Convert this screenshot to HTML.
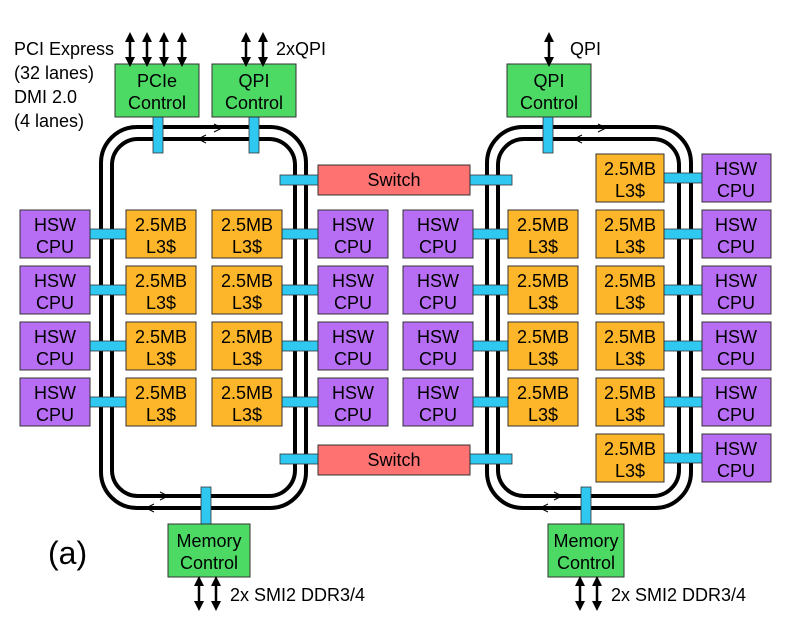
<!DOCTYPE html>
<html><head><meta charset="utf-8"><style>
html,body{margin:0;padding:0;background:#fff;}
svg{display:block;font-family:"Liberation Sans",Arial,sans-serif;}
</style></head><body>
<svg width="787" height="627" viewBox="0 0 787 627" xmlns="http://www.w3.org/2000/svg">
<defs>
<marker id="ah" viewBox="0 0 10 10" refX="5" refY="5" markerWidth="4" markerHeight="4" orient="auto-start-reverse"><path d="M0,0 L10,5 L0,10 z" fill="#000"/></marker>
</defs>
<g fill="none" stroke="#000" stroke-width="4">
<rect x="101" y="127" width="205" height="381" rx="36"/>
<rect x="112" y="139" width="183" height="357" rx="26"/>
<rect x="487" y="127" width="204" height="381" rx="36"/>
<rect x="498" y="139" width="181" height="357" rx="26"/>
</g>
<g fill="none" stroke="#000" stroke-width="1">
<path d="M214,128 l8,-4 M214,128 l8,4" transform="rotate(180 218 128)"/>
<path d="M198,139 l8,-4 M198,139 l8,4"/>
<path d="M598,128 l8,-4 M598,128 l8,4" transform="rotate(180 602 128)"/>
<path d="M598,139 l8,-4 M598,139 l8,4" transform="translate(-24 0)"/>
<path d="M160,496 l8,-4 M160,496 l8,4" transform="rotate(180 164 496)"/>
<path d="M146,508 l8,-4 M146,508 l8,4"/>
<path d="M554,496 l8,-4 M554,496 l8,4" transform="rotate(180 558 496)"/>
<path d="M540,508 l8,-4 M540,508 l8,4"/>
</g>
<g fill="#2ec8f0" stroke="#333" stroke-width="0.8">
<rect x="153" y="117" width="10" height="36"/>
<rect x="249" y="117" width="10" height="36"/>
<rect x="543" y="117" width="10" height="36"/>
<rect x="201" y="487" width="10" height="37"/>
<rect x="581" y="487" width="10" height="37"/>
<rect x="280" y="175" width="38" height="10"/>
<rect x="470" y="175" width="42" height="10"/>
<rect x="280" y="454" width="38" height="10"/>
<rect x="470" y="454" width="42" height="10"/>
<rect x="90" y="229" width="36" height="10"/><rect x="282" y="229" width="36" height="10"/><rect x="473" y="229" width="35" height="10"/>
<rect x="90" y="285" width="36" height="10"/><rect x="282" y="285" width="36" height="10"/><rect x="473" y="285" width="35" height="10"/>
<rect x="90" y="341" width="36" height="10"/><rect x="282" y="341" width="36" height="10"/><rect x="473" y="341" width="35" height="10"/>
<rect x="90" y="397" width="36" height="10"/><rect x="282" y="397" width="36" height="10"/><rect x="473" y="397" width="35" height="10"/>
<rect x="664" y="173" width="38" height="10"/><rect x="664" y="229" width="38" height="10"/><rect x="664" y="285" width="38" height="10"/>
<rect x="664" y="341" width="38" height="10"/><rect x="664" y="397" width="38" height="10"/><rect x="664" y="453" width="38" height="10"/>
</g>
<g fill="#4cd964" stroke="#333" stroke-width="1">
<rect x="115" y="64" width="84" height="53"/>
<rect x="212" y="64" width="84" height="53"/>
<rect x="507" y="64" width="84" height="53"/>
<rect x="168" y="524" width="82" height="53"/>
<rect x="548" y="524" width="76" height="53"/>
</g>
<g fill="#ff7272" stroke="#333" stroke-width="1">
<rect x="318" y="165" width="152" height="30"/>
<rect x="318" y="445" width="152" height="30"/>
</g>
<g stroke="#333" stroke-width="1">
<g fill="#b76ef5">
<rect x="20" y="210" width="70" height="48"/><rect x="20" y="266" width="70" height="48"/><rect x="20" y="322" width="70" height="48"/><rect x="20" y="378" width="70" height="48"/>
<rect x="318" y="210" width="70" height="48"/><rect x="318" y="266" width="70" height="48"/><rect x="318" y="322" width="70" height="48"/><rect x="318" y="378" width="70" height="48"/>
<rect x="403" y="210" width="70" height="48"/><rect x="403" y="266" width="70" height="48"/><rect x="403" y="322" width="70" height="48"/><rect x="403" y="378" width="70" height="48"/>
<rect x="702" y="154" width="69" height="48"/><rect x="702" y="210" width="69" height="48"/><rect x="702" y="266" width="69" height="48"/><rect x="702" y="322" width="69" height="48"/><rect x="702" y="378" width="69" height="48"/><rect x="702" y="434" width="69" height="48"/>
</g>
<g fill="#fdb52a">
<rect x="126" y="210" width="70" height="48"/><rect x="126" y="266" width="70" height="48"/><rect x="126" y="322" width="70" height="48"/><rect x="126" y="378" width="70" height="48"/>
<rect x="212" y="210" width="70" height="48"/><rect x="212" y="266" width="70" height="48"/><rect x="212" y="322" width="70" height="48"/><rect x="212" y="378" width="70" height="48"/>
<rect x="508" y="210" width="70" height="48"/><rect x="508" y="266" width="70" height="48"/><rect x="508" y="322" width="70" height="48"/><rect x="508" y="378" width="70" height="48"/>
<rect x="596" y="154" width="68" height="48"/><rect x="596" y="210" width="68" height="48"/><rect x="596" y="266" width="68" height="48"/><rect x="596" y="322" width="68" height="48"/><rect x="596" y="378" width="68" height="48"/><rect x="596" y="434" width="68" height="48"/>
</g>
</g>
<g font-size="18" text-anchor="middle" fill="#000">
<text x="157" y="87">PCIe</text><text x="157" y="109">Control</text>
<text x="254" y="87">QPI</text><text x="254" y="109">Control</text>
<text x="549" y="87">QPI</text><text x="549" y="109">Control</text>
<text x="209" y="547">Memory</text><text x="209" y="569">Control</text>
<text x="586" y="547">Memory</text><text x="586" y="569">Control</text>
<text x="394" y="186">Switch</text><text x="394" y="466">Switch</text>
</g>
<g font-size="18" text-anchor="middle" fill="#000">
<g id="r">
<text x="55" y="231">HSW</text><text x="55" y="253">CPU</text>
<text x="161" y="231">2.5MB</text><text x="161" y="253">L3$</text>
<text x="247" y="231">2.5MB</text><text x="247" y="253">L3$</text>
<text x="353" y="231">HSW</text><text x="353" y="253">CPU</text>
<text x="438" y="231">HSW</text><text x="438" y="253">CPU</text>
<text x="543" y="231">2.5MB</text><text x="543" y="253">L3$</text>
<text x="630" y="231">2.5MB</text><text x="630" y="253">L3$</text>
<text x="736" y="231">HSW</text><text x="736" y="253">CPU</text>
</g>
<use href="#r" y="56"/><use href="#r" y="112"/><use href="#r" y="168"/>
<text x="630" y="175">2.5MB</text><text x="630" y="197">L3$</text>
<text x="736" y="175">HSW</text><text x="736" y="197">CPU</text>
<text x="630" y="455">2.5MB</text><text x="630" y="477">L3$</text>
<text x="736" y="455">HSW</text><text x="736" y="477">CPU</text>
</g>
<g stroke="#000" stroke-width="2.5" marker-start="url(#ah)" marker-end="url(#ah)">
<line x1="130" y1="37" x2="130" y2="62"/><line x1="147" y1="37" x2="147" y2="62"/>
<line x1="164" y1="37" x2="164" y2="62"/><line x1="182" y1="37" x2="182" y2="62"/>
<line x1="246" y1="37" x2="246" y2="62"/><line x1="263" y1="37" x2="263" y2="62"/>
<line x1="549" y1="37" x2="549" y2="62"/>
<line x1="199" y1="581" x2="199" y2="606"/><line x1="216" y1="581" x2="216" y2="606"/>
<line x1="580" y1="581" x2="580" y2="606"/><line x1="597" y1="581" x2="597" y2="606"/>
</g>
<g font-size="18" fill="#000">
<text x="14" y="55">PCI Express</text>
<text x="14" y="79">(32 lanes)</text>
<text x="14" y="103">DMI 2.0</text>
<text x="14" y="127">(4 lanes)</text>
<text x="276" y="55">2xQPI</text>
<text x="570" y="55">QPI</text>
<text x="230" y="601">2x SMI2 DDR3/4</text>
<text x="611" y="601">2x SMI2 DDR3/4</text>
</g>
<text x="48" y="564" font-size="32" fill="#000">(a)</text>
</svg>
</body></html>
